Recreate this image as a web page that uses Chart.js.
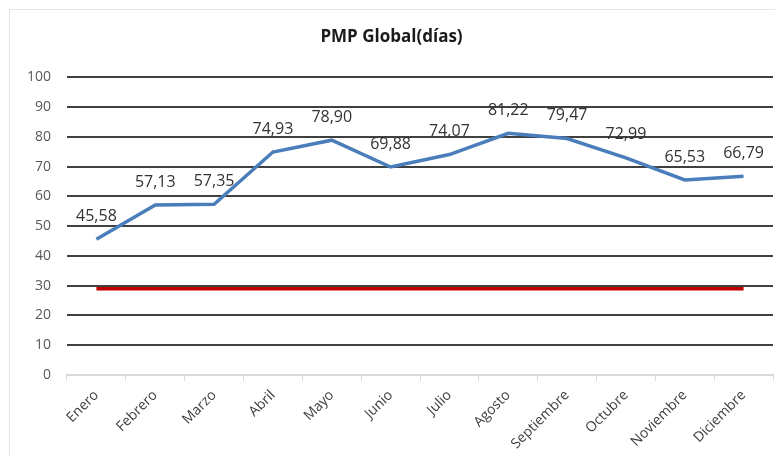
<!DOCTYPE html>
<html>
<head>
<meta charset="utf-8">
<script src="https://cdn.jsdelivr.net/npm/chart.js@4"></script>
<style>
  body { margin: 0; background: #fff; }
  #wrap { position: relative; width: 775px; height: 457px; }
  #frame { position: absolute; left: 9px; top: 9px; right: 0; bottom: 0; border-top: 1px solid #e6e6e6; border-left: 1px solid #e6e6e6; }
  canvas { position: absolute; left: 0; top: 0; }
</style>
</head>
<body>
<div id="wrap">
  <div id="frame"></div>
  <canvas id="pmpChart" width="775" height="457"></canvas>
</div>
<script>
const months = ["Enero", "Febrero", "Marzo", "Abril", "Mayo", "Junio", "Julio", "Agosto", "Septiembre", "Octubre", "Noviembre", "Diciembre"];
const pmpValues = [45.58, 57.13, 57.35, 74.93, 78.9, 69.88, 74.07, 81.22, 79.47, 72.99, 65.53, 66.79];
const targetValues = [29, 29, 29, 29, 29, 29, 29, 29, 29, 29, 29, 29];
const yTicks = [0, 10, 20, 30, 40, 50, 60, 70, 80, 90, 100];

const font = "Open Sans";

// values written above each point, with a comma as decimal separator
const pointLabels = {
  id: "pointLabels",
  afterDatasetsDraw(chart) {
    const ctx = chart.ctx;
    const meta = chart.getDatasetMeta(0);
    ctx.save();
    ctx.font = "16px '" + font + "'";
    ctx.fillStyle = "#333333";
    ctx.textAlign = "center";
    ctx.textBaseline = "middle";
    meta.data.forEach((pt, i) => {
      ctx.fillText(pmpValues[i].toFixed(2).replace(".", ","), pt.x, pt.y - 23);
    });
    ctx.restore();
  },
};

new Chart(document.getElementById("pmpChart"), {
  type: "line",
  data: {
    labels: months,
    datasets: [
      {
        label: "PMP",
        data: pmpValues,
        borderColor: "#4a7ebb",
        borderWidth: 3.5,
        pointRadius: 0,
        tension: 0,
      },
      {
        label: "Objetivo",
        data: targetValues,
        borderColor: "#c00000",
        borderWidth: 3.5,
        pointRadius: 0,
        tension: 0,
      },
    ],
  },
  options: {
    responsive: false,
    animation: false,
    layout: { padding: { left: 10, right: 2, top: 0, bottom: 0 } },
    plugins: {
      legend: { display: false },
      tooltip: { enabled: false },
      title: {
        display: true,
        text: "PMP Global(días)",
        color: "#1a1a1a",
        font: { family: font, size: 17, weight: "bold" },
        padding: { top: 27, bottom: 30 },
      },
    },
    scales: {
      x: {
        offset: true,
        grid: { offset: true, drawOnChartArea: false, drawTicks: true, tickLength: 6, color: "#d9d9d9" },
        border: { color: "#d9d9d9", width: 2 },
        ticks: {
          color: "#404040",
          font: { family: font, size: 14 },
          minRotation: 45,
          maxRotation: 45,
          padding: 6,
        },
        afterFit: (scale) => { scale.height = 82; },
      },
      y: {
        min: 0,
        max: 100,
        afterBuildTicks: (scale) => { scale.ticks = yTicks.map((v) => ({ value: v })); },
        grid: {
          drawTicks: false,
          lineWidth: 2,
          color: (c) => (c.tick && c.tick.value === 0 ? "rgba(0,0,0,0)" : "#404040"),
        },
        border: { display: false },
        ticks: { color: "#595959", font: { family: font, size: 14 }, padding: 16 },
        afterFit: (scale) => { scale.width = 57; },
      },
    },
  },
  plugins: [pointLabels],
});
</script>
</body>
</html>
